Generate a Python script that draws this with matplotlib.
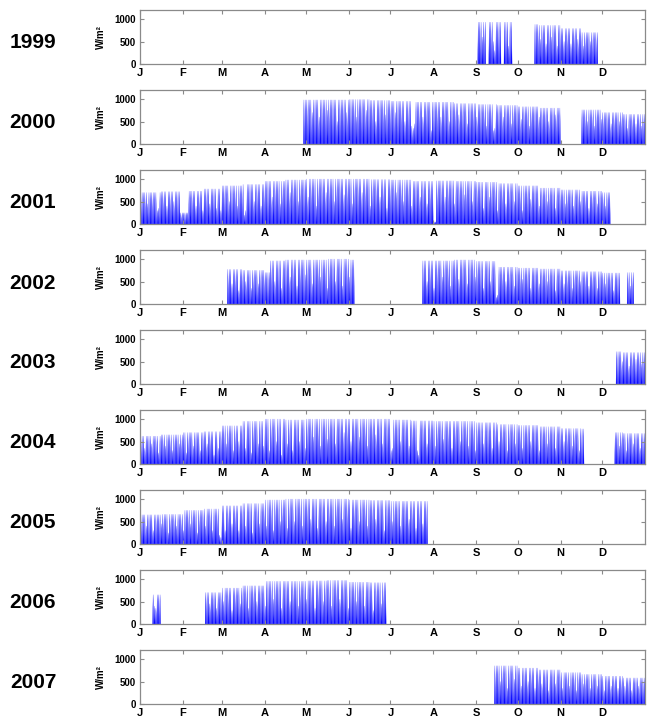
import matplotlib
matplotlib.use("Agg")
import matplotlib.pyplot as plt
from matplotlib.collections import PolyCollection

plt.rcParams["font.family"] = ["Liberation Sans", "DejaVu Sans"]

years = [1999, 2000, 2001, 2002, 2003, 2004, 2005, 2006, 2007]
month_labels = ["J", "F", "M", "A", "M", "J", "J", "A", "S", "O", "N", "D"]
month_starts = [0, 31, 59, 90, 120, 151, 181, 212, 243, 273, 304, 334]

# recorded periods, (first day, day after last) as day of year
coverage = {
    1999: [(244, 269), (285, 331)],
    2000: [(118, 304), (319, 365)],
    2001: [(0, 340)],
    2002: [(63, 155), (204, 347), (352, 357)],
    2003: [(344, 365)],
    2004: [(0, 321), (343, 365)],
    2005: [(0, 208)],
    2006: [(9, 15), (47, 178)],
    2007: [(256, 365)],
}

# clear-sky daily peak irradiance (W/m2), first and second half of each month
peaks = {
    1999: [0, 0, 0, 0, 0, 0, 0, 0, 0, 0, 0, 0, 0, 0, 0, 0, 930, 930, 880, 860, 790, 700, 0, 0],
    2000: [0, 0, 0, 0, 0, 0, 0, 980, 980, 980, 990, 970, 950, 930, 930, 900, 880, 860, 830, 800, 0, 760, 700, 660],
    2001: [700, 720, 730, 780, 850, 880, 950, 980, 1000, 1000, 1000, 990, 980, 950, 960, 950, 930, 900, 850, 800, 760, 730, 700, 0],
    2002: [0, 0, 0, 0, 770, 750, 960, 980, 980, 1000, 980, 0, 0, 960, 960, 980, 950, 820, 800, 780, 740, 720, 690, 700],
    2003: [0, 0, 0, 0, 0, 0, 0, 0, 0, 0, 0, 0, 0, 0, 0, 0, 0, 0, 0, 0, 0, 0, 720, 700],
    2004: [620, 650, 700, 720, 850, 950, 1000, 980, 1000, 1000, 1000, 1000, 980, 960, 950, 950, 920, 880, 860, 830, 790, 780, 700, 680],
    2005: [650, 660, 750, 780, 850, 900, 980, 1000, 1000, 1000, 980, 970, 950, 950, 0, 0, 0, 0, 0, 0, 0, 0, 0, 0],
    2006: [650, 0, 0, 700, 800, 850, 950, 950, 960, 970, 930, 920, 0, 0, 0, 0, 0, 0, 0, 0, 0, 0, 0, 0],
    2007: [0, 0, 0, 0, 0, 0, 0, 0, 0, 0, 0, 0, 0, 0, 0, 0, 850, 850, 800, 760, 700, 660, 620, 580],
}

# overcast days and short outages, day of year -> peak
dips = {
    1999: {247: 600, 250: 0, 251: 0, 255: 500, 256: 300, 261: 0, 262: 0, 266: 400, 289: 550,
           293: 450, 297: 600, 301: 400, 306: 500, 311: 450, 316: 550, 320: 400, 325: 500},
    2000: {124: 700, 129: 600, 135: 750, 142: 500, 149: 700, 156: 600, 163: 750, 170: 500,
           177: 650, 184: 700, 191: 500, 196: 400, 197: 350, 198: 450, 204: 600, 210: 300,
           217: 600, 223: 500, 230: 650, 236: 450, 243: 600, 250: 400, 255: 300, 256: 350,
           262: 600, 268: 450, 275: 550, 281: 400, 288: 600, 295: 500, 300: 650, 323: 500,
           328: 400, 333: 550, 340: 450, 346: 500, 352: 350, 358: 450, 362: 400},
    2001: {5: 450, 12: 300, 13: 350, 19: 400, 24: 500, 29: 250, 30: 250, 31: 250, 32: 250,
           33: 250, 34: 250, 40: 400, 45: 300, 50: 450, 55: 350, 58: 300, 64: 500, 70: 400,
           75: 200, 76: 300, 82: 500, 87: 400, 95: 600, 101: 450, 108: 700, 114: 500, 121: 600,
           127: 400, 134: 700, 140: 500, 147: 650, 153: 450, 160: 700, 166: 400, 173: 600,
           178: 350, 185: 700, 190: 500, 196: 400, 202: 600, 207: 450, 212: 50, 213: 50,
           220: 600, 227: 450, 234: 650, 240: 500, 248: 350, 252: 600, 258: 300, 264: 450,
           270: 500, 276: 300, 282: 550, 288: 400, 294: 500, 300: 350, 307: 450, 313: 400,
           318: 500, 324: 350, 330: 450, 336: 400},
    2002: {66: 450, 71: 300, 76: 500, 80: 350, 85: 450, 90: 700, 91: 700, 92: 700, 93: 700,
           97: 500, 102: 350, 108: 600, 113: 400, 119: 650, 124: 450, 130: 600, 135: 350,
           141: 500, 146: 400, 151: 600, 207: 500, 212: 350, 218: 600, 224: 400, 230: 550,
           236: 450, 242: 600, 248: 350, 253: 500, 257: 150, 258: 200, 264: 500, 270: 400,
           276: 550, 282: 350, 288: 450, 294: 500, 300: 300, 306: 450, 312: 350, 318: 500,
           324: 400, 330: 350, 336: 450, 342: 300, 354: 400},
    2003: {348: 500, 353: 400, 358: 550, 362: 450},
    2004: {3: 350, 8: 450, 13: 250, 18: 400, 23: 300, 28: 450, 33: 250, 38: 400, 43: 300,
           48: 450, 53: 200, 56: 350, 62: 450, 67: 300, 71: 500, 76: 350, 80: 250, 85: 450,
           89: 400, 93: 300, 98: 500, 102: 200, 106: 450, 110: 300, 115: 500, 119: 350,
           125: 600, 130: 400, 135: 550, 141: 450, 147: 700, 152: 500, 158: 600, 164: 400,
           170: 650, 175: 450, 181: 300, 182: 350, 188: 500, 194: 400, 200: 300, 201: 200,
           207: 450, 213: 400, 219: 550, 225: 350, 231: 500, 237: 400, 242: 300, 248: 450,
           254: 350, 259: 500, 265: 300, 271: 450, 276: 350, 282: 500, 288: 300, 294: 450,
           300: 350, 306: 500, 312: 400, 317: 300, 346: 400, 351: 300, 356: 450, 361: 350},
    2005: {4: 400, 9: 300, 15: 450, 20: 250, 26: 400, 31: 300, 36: 450, 41: 250, 47: 400,
           52: 300, 57: 200, 58: 150, 61: 300, 66: 450, 71: 300, 76: 400, 81: 250, 86: 450,
           91: 400, 96: 300, 101: 500, 106: 350, 111: 500, 117: 400, 123: 550, 128: 350,
           134: 500, 140: 400, 146: 550, 152: 350, 158: 500, 164: 400, 170: 550, 176: 300,
           182: 500, 188: 400, 194: 550, 199: 350, 204: 450},
    2006: {10: 400, 11: 350, 50: 450, 55: 350, 60: 500, 66: 300, 72: 450, 78: 350, 84: 500,
           90: 400, 96: 550, 102: 350, 108: 500, 114: 400, 120: 550, 126: 350, 132: 500,
           138: 400, 144: 550, 150: 350, 156: 500, 162: 400, 168: 300, 174: 450},
    2007: {260: 500, 265: 350, 270: 550, 275: 400, 280: 500, 285: 350, 290: 450, 295: 300,
           300: 450, 305: 350, 310: 400, 315: 300, 320: 450, 325: 350, 330: 400, 335: 300,
           340: 400, 345: 350, 350: 400, 355: 300, 360: 400},
}

fig = plt.figure(figsize=(6.47, 7.21), dpi=100)
W, H = 647.0, 721.0
grey = "#8a8a8a"

for i, year in enumerate(years):
    top = 10 + 80 * i
    ax = fig.add_axes([140 / W, 1 - (top + 54) / H, 505 / W, 54 / H])

    # one spike per recorded day
    verts = []
    for start, end in coverage[year]:
        for d in range(start, end):
            m = max(k for k in range(12) if month_starts[k] <= d)
            half = 2 * m + (1 if d >= month_starts[m] + 15 else 0)
            h = dips[year].get(d, peaks[year][half])
            if h > 0:
                verts.append([(d + 0.05, 0), (d + 0.5, h), (d + 0.95, 0)])
    pc = PolyCollection(verts, facecolors="#0000ff", edgecolors="#4646ff", linewidths=0.2)
    ax.add_collection(pc)

    ax.set_xlim(0, 365)
    ax.set_ylim(0, 1200)
    ax.set_xticks(month_starts)
    ax.set_xticklabels(month_labels, fontsize=8, fontweight="bold")
    ax.set_yticks([0, 500, 1000])
    ax.set_yticklabels(["0", "500", "1000"], fontsize=7, fontweight="bold")
    ax.tick_params(direction="in", top=True, right=True, length=3, color=grey, width=0.8)
    ax.tick_params(axis="x", pad=3)
    ax.tick_params(axis="y", pad=3)
    for sp in ax.spines.values():
        sp.set_color(grey)
        sp.set_linewidth(0.9)

    ax.set_ylabel("W/m²", fontsize=7, fontweight="bold", labelpad=6)
    fig.text(33 / W, 1 - (top + 33) / H, str(year), fontsize=15, fontweight="bold",
             ha="center", va="center")

fig.savefig("out.png", dpi=100)
